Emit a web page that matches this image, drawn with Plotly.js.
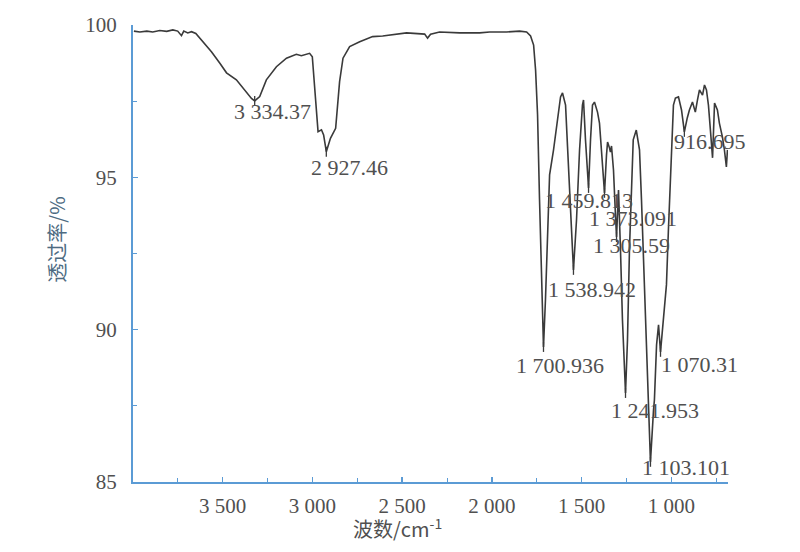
<!DOCTYPE html>
<html>
<head>
<meta charset="utf-8">
<script src="https://cdn.plot.ly/plotly-3.0.1.min.js"></script>
<style>
  html, body { margin: 0; padding: 0; background: #ffffff; }
  #plot { width: 800px; height: 552px; }
</style>
</head>
<body>
<div id="plot"></div>
<script>
// IR spectrum: wavenumber (cm-1) vs transmittance (%).

const wavenumber = [
  3995, 3962, 3923, 3890, 3851, 3812, 3778, 3751, 3730, 3717, 3695, 3674, 3650,
  3611, 3563, 3517, 3479, 3424, 3377, 3340, 3322, 3294, 3257, 3201, 3145, 3090,
  3062, 3016, 3001, 2978, 2969, 2950, 2938, 2923, 2900, 2871, 2849, 2830, 2793,
  2737, 2665, 2609, 2476, 2375, 2359, 2342, 2292, 2180, 2069, 2013, 1919, 1846,
  1807, 1785, 1768, 1757, 1746, 1735, 1724, 1713, 1702, 1690, 1679, 1657, 1635,
  1618, 1607, 1590, 1579, 1562, 1546, 1529, 1512, 1496, 1490, 1479, 1462, 1451,
  1440, 1429, 1412, 1401, 1384, 1373, 1362, 1356, 1345, 1340, 1334, 1323, 1312,
  1306, 1301, 1295, 1284, 1273, 1256, 1245, 1234, 1223, 1213, 1196, 1178, 1167,
  1150, 1134, 1117, 1100, 1095, 1083, 1072, 1061, 1044, 1028, 1017, 1011, 1000,
  989, 978, 961, 944, 928, 912, 900, 883, 867, 855, 844, 827, 816, 805, 794, 783,
  771, 760, 744, 733, 716, 705, 694, 688,
];

const transmittance = [
  99.80, 99.77, 99.80, 99.77, 99.82, 99.79, 99.84, 99.80, 99.65, 99.80, 99.74,
  99.78, 99.72, 99.45, 99.12, 98.75, 98.43, 98.20, 97.87, 97.59, 97.51, 97.65,
  98.20, 98.63, 98.91, 99.04, 98.99, 99.07, 98.96, 97.05, 96.50, 96.56, 96.39,
  95.84, 96.28, 96.61, 98.14, 98.91, 99.29, 99.45, 99.62, 99.64, 99.74, 99.70,
  99.57, 99.70, 99.77, 99.74, 99.74, 99.77, 99.77, 99.80, 99.77, 99.64, 99.34,
  98.52, 97.05, 94.26, 91.30, 89.43, 90.98, 93.27, 95.08, 95.90, 96.88, 97.64,
  97.77, 97.37, 96.00, 93.93, 91.96, 93.60, 95.90, 97.37, 97.54, 96.23, 94.65,
  96.23, 97.37, 97.47, 97.14, 96.78, 95.57, 94.49, 95.73, 96.16, 95.96, 95.83,
  96.03, 95.24, 93.76, 93.04, 93.76, 94.58, 92.62, 90.32, 87.92, 89.66, 92.62,
  94.91, 96.23, 96.55, 95.90, 94.26, 91.30, 88.35, 85.66, 87.36, 87.69, 89.50,
  90.16, 89.27, 90.32, 91.47, 93.27, 94.26, 96.23, 97.37, 97.60, 97.64, 97.21,
  96.49, 96.95, 97.21, 97.47, 97.14, 97.54, 97.87, 97.70, 98.03, 97.87, 97.37,
  96.55, 95.64, 97.44, 97.21, 96.78, 96.32, 95.90, 95.34, 95.90,
];

// Labelled band minima.
const peakLabels = [
  '3 334.37', '2 927.46', '1 700.936', '1 538.942', '1 459.813', '1 373.091',
  '1 305.59', '1 241.953', '1 103.101', '1 070.31', '916.695',
];
const peakWn = [3322, 2923, 1713, 1546, 1462, 1373, 1306, 1256, 1117, 1061, 928];
const peakT = [97.51, 95.84, 89.43, 91.96, 94.65, 94.49, 93.04, 87.92, 85.66, 89.27, 96.49];

const xTickVals = [3500, 3000, 2500, 2000, 1500, 1000];
const xTickText = ['3 500', '3 000', '2 500', '2 000', '1 500', '1 000'];
const xMinorVals = [3750, 3250, 2750, 2250, 1750, 1250, 750];
const yTickVals = [85, 90, 95, 100];
const yMinorVals = [87.5, 92.5, 97.5];

// Pixel offset of each label's centre from its band minimum.
const labelOffsets = [
  [18, 11], [23, 16], [17, 18], [19, 20], [0, 12], [28, 26],
  [15, 8], [29, 17], [36, 6], [39, 13], [26, 10],
];

const AXIS_BLUE = '#5b9bd5';
const TEXT = '#505050';
const SERIF = 'Liberation Serif, DejaVu Serif, serif';

const axisBase = {
  showline: true,
  linecolor: AXIS_BLUE,
  linewidth: 2,
  showgrid: false,
  zeroline: false,
  ticks: 'inside',
  ticklen: 5,
  tickwidth: 1.5,
  tickcolor: AXIS_BLUE,
  tickfont: { family: SERIF, size: 21, color: TEXT },
  mirror: false,
};

const traces = [
  {
    x: wavenumber,
    y: transmittance,
    mode: 'lines',
    line: { color: '#3a3a3a', width: 1.6 },
    hoverinfo: 'skip',
  },
  {
    x: peakWn,
    y: peakT,
    mode: 'markers',
    marker: { symbol: 'line-ns', size: 7, line: { color: '#3a3a3a', width: 1.3 } },
    hoverinfo: 'skip',
  },
];

const annotations = peakLabels.map((text, i) => ({
  x: peakWn[i],
  y: peakT[i],
  text,
  showarrow: true,
  arrowcolor: 'rgba(0,0,0,0)',
  ax: labelOffsets[i][0],
  ay: labelOffsets[i][1],
  font: { family: SERIF, size: 22, color: TEXT },
}));

annotations.push(
  {
    xref: 'paper', yref: 'paper',
    x: -0.128, y: 0.53,
    xanchor: 'center', yanchor: 'middle',
    text: '透过率/%',
    textangle: -90,
    showarrow: false,
    font: { family: 'Noto Sans CJK SC', size: 20, color: '#4d6b82' },
  },
  {
    xref: 'paper', yref: 'paper',
    x: 0.445, y: -0.1,
    xanchor: 'center', yanchor: 'middle',
    text: '波数/cm<sup>-1</sup>',
    showarrow: false,
    font: { family: 'Noto Sans CJK SC, ' + SERIF, size: 20, color: TEXT },
  },
);

const layout = {
  width: 800,
  height: 552,
  paper_bgcolor: '#ffffff',
  plot_bgcolor: '#ffffff',
  margin: { l: 133, r: 72, t: 25, b: 70 },
  showlegend: false,
  xaxis: {
    ...axisBase,
    range: [4000, 685],
    tickvals: xTickVals,
    ticktext: xTickText,
    ticklabelstandoff: 4,
    minor: { tickvals: xMinorVals, ticks: 'inside', ticklen: 4, tickcolor: AXIS_BLUE, tickwidth: 1.2 },
  },
  yaxis: {
    ...axisBase,
    range: [85, 100],
    tickvals: yTickVals,
    ticklabelstandoff: 10,
    minor: { tickvals: yMinorVals, ticks: 'inside', ticklen: 4, tickcolor: AXIS_BLUE, tickwidth: 1.2 },
  },
  annotations,
};

Plotly.newPlot('plot', traces, layout, { displayModeBar: false, staticPlot: true });
</script>
</body>
</html>
